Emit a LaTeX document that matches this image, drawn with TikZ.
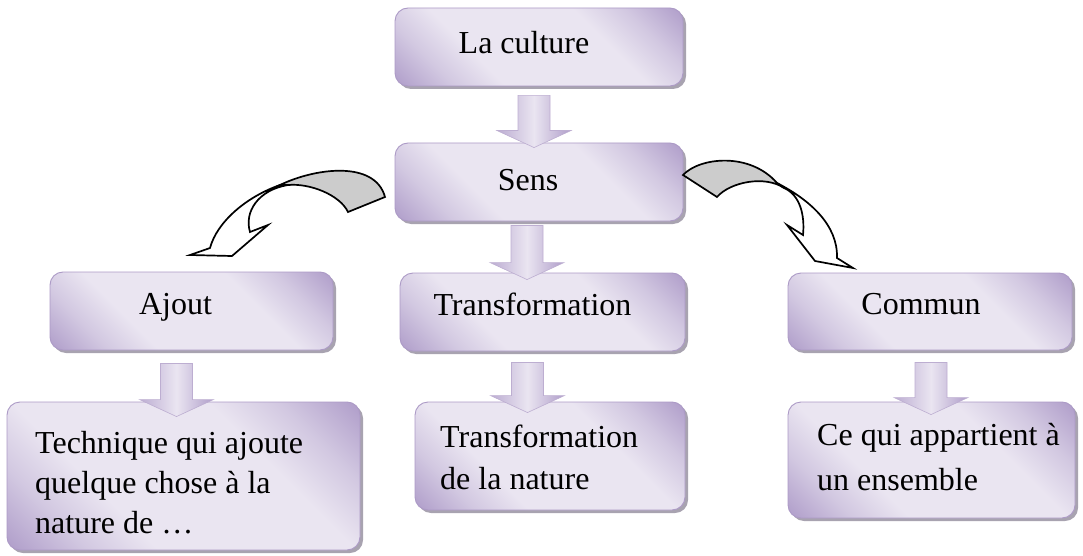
\documentclass[tikz,border=0pt]{standalone}
\usepackage{fontspec}
\setmainfont{Liberation Serif}
\usetikzlibrary{calc,shadows}
\definecolor{lavdark}{RGB}{176,158,202}
\definecolor{lavmid}{RGB}{210,200,225}
\definecolor{lavlight}{RGB}{234,229,241}
\definecolor{lavedge}{RGB}{172,154,198}
\definecolor{backgray}{RGB}{204,204,204}
\pgfdeclareverticalshading{boxshade}{100bp}{color(0bp)=(lavdark); color(15bp)=(lavdark);
  color(26bp)=(lavmid); color(36bp)=(lavlight); color(64bp)=(lavlight);
  color(74bp)=(lavmid); color(85bp)=(lavdark); color(100bp)=(lavdark)}
\tikzset{
  box/.style={rectangle, rounded corners=13pt, draw=lavedge, line width=0.9pt,
    shading=boxshade, shading angle=-45,
    drop shadow={shadow xshift=3pt, shadow yshift=-3pt, fill=black!45!lavdark, opacity=0.55},
    inner sep=0pt},
  txt/.style={inner sep=0pt, font=\fontsize{32}{41}\selectfont, text=black},
  arrowbody/.style={draw=lavedge!80, line width=0.6pt,
    left color=lavdark!85, right color=lavdark, middle color=lavlight},
  curvearrow/.style={draw=black, line width=1.7pt, line join=miter},
}
\newcommand{\blockarrow}[2]{%
  \path[arrowbody] let \p1=(#1), \p2=(#2) in
    (\x1-16pt,\y1) -- (\x1+16pt,\y1) -- (\x1+16pt,\y2+17pt) -- (\x1+37pt,\y2+17pt)
    -- (\x1,\y2) -- (\x1-37pt,\y2+17pt) -- (\x1-16pt,\y2+17pt) -- cycle;}
\begin{document}
\begin{tikzpicture}[x=1pt,y=-1pt]
\useasboundingbox (0,0) rectangle (1083,556);
% boxes
\node[box, minimum width=288pt, minimum height=78pt] (culture) at (539,47) {};
\node[box, minimum width=288pt, minimum height=78pt] (sens) at (539,182) {};
\node[box, minimum width=283pt, minimum height=78pt] (ajout) at (191.5,311) {};
\node[box, minimum width=285pt, minimum height=78pt] (transf) at (542.5,312) {};
\node[box, minimum width=284pt, minimum height=77pt] (commun) at (930,311.5) {};
\node[box, minimum width=353pt, minimum height=148pt] (technique) at (183.5,476) {};
\node[box, minimum width=270pt, minimum height=108pt] (nature) at (550,456) {};
\node[box, minimum width=287pt, minimum height=116pt] (ensemble) at (931.5,460) {};
% texts
\node[txt, anchor=base] (tculture) at ($(culture.center)+(-15,7)$) {La culture};
\node[txt, anchor=base] (tsens) at ($(sens.center)+(-11,8)$) {Sens};
\node[txt, anchor=base] (tajout) at ($(ajout.center)+(-16,3)$) {Ajout};
\node[txt, anchor=base] (ttransf) at ($(transf.center)+(-10,3)$) {Transformation};
\node[txt, anchor=base] (tcommun) at ($(commun.center)+(-9,3)$) {Commun};
\node[txt, anchor=north west, align=left, font=\fontsize{32}{40}\selectfont] (ttechnique) at (35,431)
  {Technique qui ajoute\\quelque chose à la\\nature de \dots};
\node[txt, anchor=north west, align=left, font=\fontsize{32}{41.5}\selectfont] (tnature) at (440,425)
  {Transformation\\de la nature};
\node[txt, anchor=north west, align=left, font=\fontsize{32}{45}\selectfont] (tensemble) at (817,423)
  {Ce qui appartient à\\un ensemble};
% straight block arrows
\coordinate (a1s) at ($(culture.south)+(-5,9)$);
\coordinate (a1e) at ($(sens.north)+(-5,5)$);
\coordinate (a2s) at ($(sens.south)+(-12,4)$);
\coordinate (a2e) at ($(transf.north)+(-15,7)$);
\coordinate (a3s) at ($(transf.south)+(-15,11)$);
\coordinate (a3e) at ($(nature.north)+(-23,11)$);
\coordinate (a4s) at ($(ajout.south)+(-15,13)$);
\coordinate (a4e) at ($(technique.north)+(-7,15)$);
\coordinate (a5s) at ($(commun.south)+(1,12)$);
\coordinate (a5e) at ($(ensemble.north)+(0,13)$);
\blockarrow{a1s}{a1e}
\blockarrow{a2s}{a2e}
\blockarrow{a3s}{a3e}
\blockarrow{a4s}{a4e}
\blockarrow{a5s}{a5e}
% left curved arrow (from Sens towards Ajout)
\filldraw[curvearrow, fill=backgray] (280,185) .. controls (315,168) and (375,160) .. (385,197)
  -- (348,212) .. controls (340,195) and (310,183) .. (288,185) -- cycle;
\filldraw[curvearrow, fill=white] (280,185) .. controls (246,197) and (217,222) .. (210,248)
  -- (190,255) -- (232,256) -- (268,225) -- (250,232)
  .. controls (244,212) and (258,190) .. (288,185) -- cycle;
% right curved arrow (from Sens towards Commun)
\filldraw[curvearrow, fill=backgray] (683,175) .. controls (700,157) and (750,152) .. (777,183)
  -- (784,188) .. controls (765,175) and (730,182) .. (717,197) -- cycle;
\filldraw[curvearrow, fill=white] (777,183) .. controls (810,200) and (838,225) .. (837,258)
  -- (853,268) -- (815,261) -- (787,225) -- (803,235)
  .. controls (805,215) and (800,195) .. (784,188) -- cycle;
\end{tikzpicture}
\end{document}
